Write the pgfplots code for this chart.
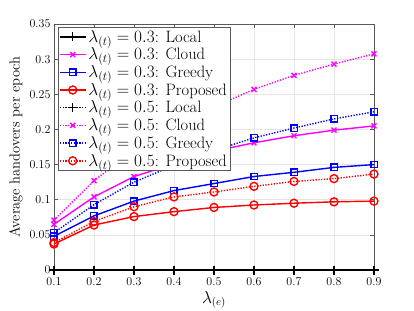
\documentclass[border=0pt]{standalone}
\usepackage{pgfplots}
\pgfplotsset{compat=1.18}
\usetikzlibrary{calc}
\definecolor{axcol}{gray}{0.35}
\definecolor{gridcol}{gray}{0.9}
\definecolor{mag}{rgb}{1,0,1}
\definecolor{blu}{rgb}{0,0,1}
\definecolor{rd}{rgb}{1,0,0}
\begin{document}
\begin{tikzpicture}
\begin{axis}[
 scale only axis, width=320pt, height=246pt,
 xmin=0.1, xmax=0.9, ymin=0, ymax=0.35,
 xtick={0.1,0.2,0.3,0.4,0.5,0.6,0.7,0.8,0.9},
 ytick={0,0.05,0.1,0.15,0.2,0.25,0.3,0.35},
 yticklabel style={/pgf/number format/fixed,/pgf/number format/precision=2},
 xticklabel style={/pgf/number format/fixed,/pgf/number format/precision=1, yshift=-4pt},
 tick label style={font=\fontsize{13}{15}\selectfont},
 grid=major, major grid style={gridcol, line width=0.5pt},
 axis line style={axcol, line width=0.6pt},
 tick style={axcol, line width=0.6pt},
 tick align=inside, tick pos=both, major tick length=4pt,
 xlabel={$\lambda_{(e)}$}, ylabel={Average handovers per epoch},
 label style={font=\fontsize{14.5}{16}\selectfont},
 xlabel style={font=\fontsize{16}{18}\selectfont, yshift=1pt},
 ylabel style={yshift=0pt},
 clip=false,
 legend cell align=left,
 legend style={at={(0.012,0.988)}, anchor=north west, draw=axcol, fill=white,
   font=\fontsize{16.5}{18}\selectfont, inner sep=1pt, row sep=0.2pt,
   /tikz/every even column/.append style={column sep=0pt}},
 legend image code/.code={\draw[#1] (0pt,0pt) -- (26pt,0pt);
   \draw[#1, solid] plot coordinates {(13pt,0pt)};},
 every axis plot/.append style={line width=1.4pt},
]
% lambda_t = 0.3
\addplot[black, mark=+, mark size=4.5pt, mark options={solid}] coordinates {(0.1,0)(0.2,0)(0.3,0)(0.4,0)(0.5,0)(0.6,0)(0.7,0)(0.8,0)(0.9,0)};
\addlegendentry{$\lambda_{(t)}=0.3$: Local}
\addplot[mag, mark=x, mark size=3.5pt, mark options={solid}] coordinates {(0.1,0.065)(0.2,0.104)(0.3,0.133)(0.4,0.151)(0.5,0.169)(0.6,0.181)(0.7,0.191)(0.8,0.199)(0.9,0.205)};
\addlegendentry{$\lambda_{(t)}=0.3$: Cloud}
\addplot[blu, mark=square, mark size=3.2pt, mark options={solid}] coordinates {(0.1,0.048)(0.2,0.077)(0.3,0.098)(0.4,0.113)(0.5,0.123)(0.6,0.133)(0.7,0.139)(0.8,0.146)(0.9,0.150)};
\addlegendentry{$\lambda_{(t)}=0.3$: Greedy}
\addplot[rd, mark=o, mark size=4pt, mark options={solid}] coordinates {(0.1,0.037)(0.2,0.064)(0.3,0.076)(0.4,0.083)(0.5,0.089)(0.6,0.0925)(0.7,0.095)(0.8,0.097)(0.9,0.098)};
\addlegendentry{$\lambda_{(t)}=0.3$: Proposed}
% lambda_t = 0.5
\addplot[black, dash pattern=on 1.3pt off 1.5pt, mark=+, mark size=4.5pt, mark options={solid}] coordinates {(0.1,0)(0.2,0)(0.3,0)(0.4,0)(0.5,0)(0.6,0)(0.7,0)(0.8,0)(0.9,0)};
\addlegendentry{$\lambda_{(t)}=0.5$: Local}
\addplot[mag, dash pattern=on 1.3pt off 1.5pt, mark=x, mark size=3.5pt, mark options={solid}] coordinates {(0.1,0.071)(0.2,0.127)(0.3,0.171)(0.4,0.206)(0.5,0.232)(0.6,0.257)(0.7,0.277)(0.8,0.293)(0.9,0.3075)};
\addlegendentry{$\lambda_{(t)}=0.5$: Cloud}
\addplot[blu, dash pattern=on 1.3pt off 1.5pt, mark=square, mark size=3.2pt, mark options={solid}] coordinates {(0.1,0.053)(0.2,0.093)(0.3,0.125)(0.4,0.149)(0.5,0.170)(0.6,0.188)(0.7,0.202)(0.8,0.215)(0.9,0.225)};
\addlegendentry{$\lambda_{(t)}=0.5$: Greedy}
\addplot[rd, dash pattern=on 1.3pt off 1.5pt, mark=o, mark size=4pt, mark options={solid}] coordinates {(0.1,0.039)(0.2,0.069)(0.3,0.090)(0.4,0.104)(0.5,0.111)(0.6,0.119)(0.7,0.126)(0.8,0.130)(0.9,0.1365)};
\addlegendentry{$\lambda_{(t)}=0.5$: Proposed}
\end{axis}
\pgfresetboundingbox
\path[use as bounding box] ($(current axis.south west)+(-54pt,-40pt)$) rectangle ($(current axis.north east)+(40pt,24pt)$);
\end{tikzpicture}
\end{document}
